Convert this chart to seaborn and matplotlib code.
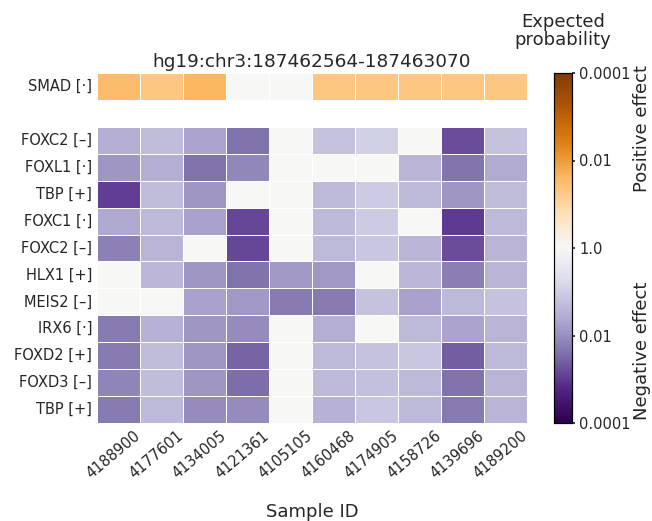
import numpy as np
import pandas as pd
import matplotlib
matplotlib.use("Agg")
import matplotlib.pyplot as plt
import matplotlib.transforms as mtransforms
import seaborn as sns

# signed log10 effect: + = positive effect (orange), - = negative effect (purple)
samples = ["4188900", "4177601", "4134005", "4121361", "4105105",
           "4160468", "4174905", "4158726", "4139696", "4189200"]
motifs = ["SMAD [·]", "", "FOXC2 [–]", "FOXL1 [·]", "TBP [+]", "FOXC1 [·]",
          "FOXC2 [–]", "HLX1 [+]", "MEIS2 [–]", "IRX6 [·]", "FOXD2 [+]",
          "FOXD3 [–]", "TBP [+]"]

smad  = [1.5, 1.3, 1.6, 0, 0, 1.3, 1.3, 1.3, 1.3, 1.3]
gap   = [np.nan] * 10
foxc2 = [-1.55, -1.3, -1.7, -2.4, 0, -1.2, -0.95, 0, -2.8, -1.2]
foxl1 = [-1.9, -1.55, -2.4, -2.1, 0, 0, 0, -1.45, -2.35, -1.6]
tbp   = [-2.95, -1.3, -1.9, 0, 0, -1.35, -1.05, -1.35, -1.9, -1.3]
foxc1 = [-1.65, -1.35, -1.75, -2.85, 0, -1.35, -1.05, 0, -3.0, -1.35]
foxc2b = [-2.2, -1.45, 0, -2.85, 0, -1.35, -1.15, -1.45, -2.8, -1.45]
hlx1  = [0, -1.4, -1.9, -2.4, -1.85, -1.85, 0, -1.4, -2.25, -1.45]
meis2 = [0, 0, -1.75, -1.85, -2.3, -2.3, -1.2, -1.75, -1.35, -1.2]
irx6  = [-2.3, -1.5, -1.9, -2.05, 0, -1.55, 0, -1.35, -1.7, -1.45]
foxd2 = [-2.3, -1.3, -1.9, -2.55, 0, -1.35, -1.2, -1.15, -2.6, -1.35]
foxd3 = [-2.15, -1.3, -1.9, -2.45, 0, -1.35, -1.25, -1.35, -2.4, -1.45]
tbpb  = [-2.3, -1.35, -2.05, -2.05, 0, -1.5, -1.15, -1.35, -2.3, -1.45]

cbar_ticks = [-4, -2, 0, 2, 4]
cbar_labels = ["0.0001", "0.01", "1.0", "0.01", "0.0001"]

mat = pd.DataFrame([smad, gap, foxc2, foxl1, tbp, foxc1, foxc2b, hlx1,
                    meis2, irx6, foxd2, foxd3, tbpb], columns=samples)

sns.set_theme(style="white")
plt.rcParams["font.family"] = ["DejaVu Sans"]

W, H = 652, 521
fig = plt.figure(figsize=(W / 100, H / 100), dpi=100)
ax = fig.add_axes([97 / W, 1 - 423 / H, 430 / W, 350 / H])
cax = fig.add_axes([554 / W, 1 - 423 / H, 18 / W, 350 / H])

sns.heatmap(mat, ax=ax, cbar_ax=cax, cmap="PuOr_r", vmin=-4, vmax=4,
            linewidths=0.6, linecolor="white",
            yticklabels=motifs, xticklabels=samples)

ax.set_title("hg19:chr3:187462564-187463070", fontsize=13.3, pad=4.5)
ax.set_xlabel("Sample ID", fontsize=13)
ax.xaxis.set_label_coords(0.5, -(503 - 423) / 350)
ax.set_ylabel("")
ax.tick_params(axis="both", length=0, labelsize=10.5)
ax.set_yticklabels(motifs, rotation=0)
ax.set_xticklabels(samples, rotation=40, ha="right", rotation_mode="anchor")
shift = mtransforms.ScaledTranslation(15 / 100, 0, fig.dpi_scale_trans)
for lab in ax.get_xticklabels():
    lab.set_transform(lab.get_transform() + shift)

cax.set_yticks(cbar_ticks)
cax.set_yticklabels(cbar_labels)
cax.tick_params(axis="y", length=2.5, labelsize=10.5, right=True, pad=2.5)
for s in cax.spines.values():
    s.set_visible(True)
    s.set_color("black")
    s.set_linewidth(0.8)

fig.text(563 / W, 1 - 31 / H, "Expected\nprobability", ha="center",
         va="center", fontsize=13, linespacing=1.0)
fig.text(642 / W, 1 - 129 / H, "Positive effect", rotation=90,
         ha="center", va="center", fontsize=13)
fig.text(642 / W, 1 - 351 / H, "Negative effect", rotation=90,
         ha="center", va="center", fontsize=13)

fig.savefig("out.png", dpi=100)
